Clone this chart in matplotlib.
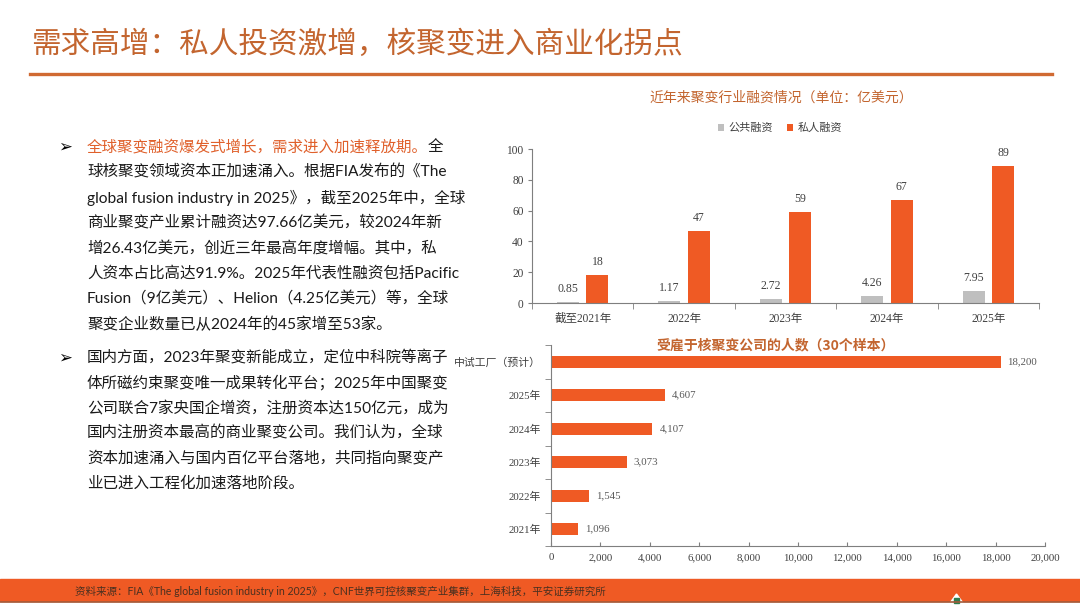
import matplotlib
matplotlib.use("Agg")
import matplotlib.pyplot as plt
from matplotlib.patches import Rectangle, Polygon
from matplotlib.lines import Line2D
import numpy as np

# ---------------- data ----------------
top_categories = ['截至2021年', '2022年', '2023年', '2024年', '2025年']
public_funding = [0.85, 1.17, 2.72, 4.26, 7.95]
private_funding = [18, 47, 59, 67, 89]
top_yticks = [0, 20, 40, 60, 80, 100]

bottom_categories = ['中试工厂（预计）', '2025年', '2024年', '2023年', '2022年', '2021年']
employees = [18200, 4607, 4107, 3073, 1545, 1096]
bottom_xticks = [0, 2000, 4000, 6000, 8000, 10000, 12000, 14000, 16000, 18000, 20000]

title_text = '需求高增：私人投资激增，核聚变进入商业化拐点'
top_chart_title = '近年来聚变行业融资情况（单位：亿美元）'
bottom_chart_title = '受雇于核聚变公司的人数（30个样本）'
legend_labels = ['公共融资', '私人融资']

bullet1_head = '全球聚变融资爆发式增长，需求进入加速释放期。'
bullet1_lines = [
    '全',
    '球核聚变领域资本正加速涌入。根据FIA发布的《The',
    'global fusion industry in 2025》，截至2025年中，全球',
    '商业聚变产业累计融资达97.66亿美元，较2024年新',
    '增26.43亿美元，创近三年最高年度增幅。其中，私',
    '人资本占比高达91.9%。2025年代表性融资包括Pacific',
    'Fusion（9亿美元）、Helion（4.25亿美元）等，全球',
    '聚变企业数量已从2024年的45家增至53家。',
]
bullet2_lines = [
    '国内方面，2023年聚变新能成立，定位中科院等离子',
    '体所磁约束聚变唯一成果转化平台；2025年中国聚变',
    '公司联合7家央国企增资，注册资本达150亿元，成为',
    '国内注册资本最高的商业聚变公司。我们认为，全球',
    '资本加速涌入与国内百亿平台落地，共同指向聚变产',
    '业已进入工程化加速落地阶段。',
]
footer_text = '资料来源：FIA《The global fusion industry in 2025》，CNF世界可控核聚变产业集群，上海科技，平安证券研究所'

# ---------------- style ----------------
ORANGE = '#EF5A24'
GREY = '#BFBFBF'
TITLE_COL = '#C3652F'
CJK = ['Noto Sans CJK SC', 'DejaVu Sans']
BODY = ['Lato', 'Noto Sans CJK SC', 'DejaVu Sans']
SERIF = ['Liberation Serif', 'Noto Sans CJK SC', 'DejaVu Sans']
plt.rcParams['font.family'] = CJK

W, H = 1080, 608
fig = plt.figure(figsize=(W / 100, H / 100), dpi=100)
fig.patch.set_facecolor('white')


def fx(x):
    return x / W


def fy(y):
    return 1 - y / H


# ---------------- header ----------------
fig.text(fx(31), fy(44), title_text, fontsize=21.3, color=TITLE_COL,
         family=CJK, va='center', ha='left')
fig.add_artist(Line2D([fx(30), fx(1052)], [fy(74), fy(74)], color='#D06A32',
                      lw=2.4, transform=fig.transFigure))

# ---------------- body text ----------------
fs_body = 11.2
fig.text(fx(65), fy(147), '➢', fontsize=12, color='#000000',
         family=['DejaVu Sans'], va='center', ha='center', fontweight='bold')
t = fig.text(fx(87), fy(147), bullet1_head, fontsize=fs_body, color='#E0602B',
             family=BODY, va='center', ha='left')
fig.canvas.draw()
bb = t.get_window_extent(renderer=fig.canvas.get_renderer())
fig.text(bb.x1 / W, fy(147), bullet1_lines[0], fontsize=fs_body, color='#1a1a1a',
         family=BODY, va='center', ha='left')
y = 147
for line in bullet1_lines[1:]:
    y += 25.3
    fig.text(fx(87), fy(y), line, fontsize=fs_body, color='#1a1a1a',
             family=BODY, va='center', ha='left')

fig.text(fx(65), fy(358), '➢', fontsize=12, color='#000000',
         family=['DejaVu Sans'], va='center', ha='center', fontweight='bold')
y = 358
for i, line in enumerate(bullet2_lines):
    if i > 0:
        y += 25.0
    fig.text(fx(87), fy(y), line, fontsize=fs_body, color='#1a1a1a',
             family=BODY, va='center', ha='left')

# ---------------- top chart ----------------
ax1 = fig.add_axes([fx(532), fy(303), fx(1039) - fx(532), fy(149) - fy(303)])
x = np.arange(len(top_categories))
bw = 0.217
off = 0.145
b1 = ax1.bar(x - off, public_funding, width=bw, color=GREY, label=legend_labels[0])
b2 = ax1.bar(x + off, private_funding, width=bw, color=ORANGE, label=legend_labels[1])
for rect, v in zip(b1, public_funding):
    ax1.annotate(f'{v:.2f}', (rect.get_x() + rect.get_width() / 2, v),
                 xytext=(0, 5), textcoords='offset points', ha='center', va='bottom',
                 fontsize=8.5, color='#404040', family=SERIF)
for rect, v in zip(b2, private_funding):
    ax1.annotate(f'{v:d}', (rect.get_x() + rect.get_width() / 2, v),
                 xytext=(0, 5), textcoords='offset points', ha='center', va='bottom',
                 fontsize=8.5, color='#404040', family=SERIF)
ax1.set_xlim(-0.5, len(top_categories) - 0.5)
ax1.set_ylim(0, 100)
ax1.set_yticks(top_yticks)
ax1.set_yticklabels([str(v) for v in top_yticks], family=SERIF, fontsize=8.3, color='#404040')
ax1.set_xticks(x)
ax1.set_xticklabels(top_categories, family=SERIF, fontsize=8.3, color='#404040')
ax1.set_xticks(np.arange(-0.5, len(top_categories), 1.0), minor=True)
ax1.tick_params(axis='x', which='major', length=0, pad=7)
ax1.tick_params(axis='x', which='minor', length=4, direction='out', color='#7f7f7f')
ax1.tick_params(axis='y', length=3, direction='out', color='#7f7f7f', pad=3)
for s in ['top', 'right']:
    ax1.spines[s].set_visible(False)
for s in ['left', 'bottom']:
    ax1.spines[s].set_color('#7f7f7f')
    ax1.spines[s].set_linewidth(0.8)
ax1.set_facecolor('none')

fig.text(fx(781), fy(98), top_chart_title, fontsize=10, color=TITLE_COL,
         family=CJK, ha='center', va='center')
fig.legend(handles=[b1, b2], labels=legend_labels, loc='center',
           bbox_to_anchor=(fx(780), fy(128)), ncol=2, frameon=False,
           handlelength=0.6, handleheight=0.6, handletextpad=0.4,
           columnspacing=1.2, prop={'family': CJK, 'size': 8}, labelcolor='#404040')

# ---------------- bottom chart ----------------
ax2 = fig.add_axes([fx(551), fy(546), fx(1045) - fx(551), fy(345) - fy(546)])
yb = np.arange(len(bottom_categories))
bars = ax2.barh(yb, employees, height=0.36, color=ORANGE)
for rect, v in zip(bars, employees):
    ax2.annotate(f'{v:,}', (v, rect.get_y() + rect.get_height() / 2),
                 xytext=(5, 0), textcoords='offset points', ha='left', va='center',
                 fontsize=7.8, color='#595959', family=SERIF)
ax2.set_ylim(len(bottom_categories) - 0.5, -0.5)
ax2.set_xlim(0, 20000)
ax2.set_xticks(bottom_xticks)
ax2.set_xticklabels([f'{v:,}' for v in bottom_xticks], family=SERIF, fontsize=7.8,
                    color='#404040')
ax2.set_yticks(yb)
ax2.set_yticklabels(bottom_categories, family=SERIF, fontsize=7.8, color='#404040')
ax2.set_yticks(np.arange(-0.5, len(bottom_categories), 1.0), minor=True)
ax2.tick_params(axis='y', which='major', length=0, pad=7)
ax2.tick_params(axis='y', which='minor', length=4, direction='out', color='#7f7f7f')
ax2.tick_params(axis='x', length=3, direction='in', color='#7f7f7f', pad=5)
for s in ['top', 'right']:
    ax2.spines[s].set_visible(False)
for s in ['left', 'bottom']:
    ax2.spines[s].set_color('#7f7f7f')
    ax2.spines[s].set_linewidth(0.8)
ax2.set_facecolor('none')

fig.text(fx(776), fy(345), bottom_chart_title, fontsize=10, color=TITLE_COL,
         family=CJK, ha='center', va='center', fontweight='bold')

# ---------------- footer ----------------
fig.add_artist(Rectangle((0, fy(601)), 1, fy(579) - fy(601), color=ORANGE,
                         transform=fig.transFigure, zorder=0))
fig.add_artist(Line2D([0, 1], [fy(602), fy(602)], color='#A35A3A', lw=1.2,
                      transform=fig.transFigure))
fig.text(fx(75), fy(591), footer_text, fontsize=7.6, color='#4a3020',
         family=BODY, ha='left', va='center')
fig.add_artist(Polygon([[fx(950), fy(603)], [fx(963), fy(603)], [fx(956.5), fy(594)]],
                       closed=True, color='white', transform=fig.transFigure))
fig.add_artist(Rectangle((fx(954), fy(603)), fx(5) - fx(0), fy(598) - fy(603),
                         color='#2E7D4F', transform=fig.transFigure))

fig.savefig('out.png', dpi=100, facecolor='white')
